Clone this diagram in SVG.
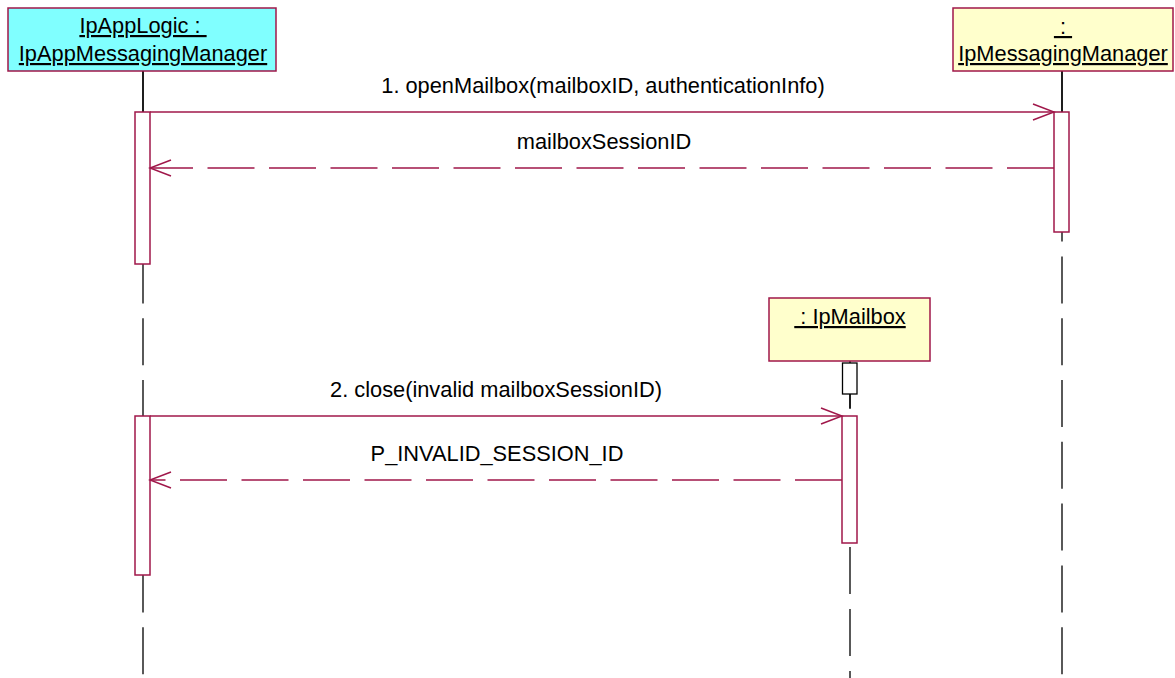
<svg xmlns="http://www.w3.org/2000/svg" width="1175" height="678" viewBox="0 0 1175 678">
<style>
text{font-family:"Liberation Sans",Arial,sans-serif;font-size:21.8px;fill:#000;}
.u{text-decoration:underline;}
.node{stroke:#a0174a;stroke-width:1.5;}
.life{stroke:#000;stroke-width:1.3;fill:none;}
.dl{stroke-dasharray:47 14.8;}
.act{fill:#fff;stroke:#a0174a;stroke-width:1.5;}
.msg{stroke:#a0174a;stroke-width:1.5;fill:none;}
.ret{stroke:#a0174a;stroke-width:1.5;fill:none;stroke-dasharray:47 14.5;}
</style>
<defs>
<marker id="arr" markerWidth="24" markerHeight="20" refX="22" refY="9" orient="auto" markerUnits="userSpaceOnUse">
<path d="M1,1 L22,9 L1,17" fill="none" stroke="#a0174a" stroke-width="1.5"/>
</marker>
</defs>
<g id="lifelines">
<line class="life" x1="143" y1="71" x2="143" y2="112"/>
<line class="life dl" x1="143" y1="71" x2="143" y2="678"/>
<line class="life" x1="1062" y1="71" x2="1062" y2="112"/>
<line class="life dl" x1="1062" y1="71" x2="1062" y2="678"/>
<line class="life dl" x1="850" y1="361" x2="850" y2="678" style="stroke-dasharray:47 15"/>
</g>
<g id="node-appLogic">
<rect class="node" x="8" y="8" width="268" height="63" fill="#80ffff"/>
<text class="u" x="143" y="33" text-anchor="middle" xml:space="preserve">IpAppLogic : </text>
<text class="u" x="143" y="61" text-anchor="middle">IpAppMessagingManager</text>
</g>
<g id="node-messagingManager">
<rect class="node" x="953" y="8" width="220" height="63" fill="#ffffcc"/>
<text class="u" x="1063" y="34" text-anchor="middle" xml:space="preserve"> : </text>
<text class="u" x="1063" y="61" text-anchor="middle">IpMessagingManager</text>
</g>
<g id="node-mailbox">
<rect class="node" x="769" y="298" width="161" height="63" fill="#ffffcc"/>
<text class="u" x="850" y="324" text-anchor="middle" xml:space="preserve"> : IpMailbox</text>
</g>
<g id="activations">
<rect class="act" x="135" y="112" width="15" height="152"/>
<rect class="act" x="1054" y="112" width="15" height="120"/>
<rect class="act" x="842.5" y="363" width="14.5" height="31" style="stroke:#000;stroke-width:1.3"/>
<line class="life" x1="850" y1="394" x2="850" y2="409"/>
<rect class="act" x="135" y="416" width="15" height="159"/>
<rect class="act" x="842" y="416" width="15" height="127"/>
</g>
<g id="connectors">
<line class="msg" x1="150" y1="112" x2="1054" y2="112" marker-end="url(#arr)"/>
<line class="ret" x1="1054" y1="168" x2="150" y2="168" marker-end="url(#arr)"/>
<line class="msg" x1="150" y1="416" x2="842" y2="416" marker-end="url(#arr)"/>
<line class="ret" x1="842" y1="480" x2="150" y2="480" marker-end="url(#arr)"/>
</g>
<g id="labels">
<text x="603" y="93" text-anchor="middle">1. openMailbox(mailboxID, authenticationInfo)</text>
<text x="604" y="149" text-anchor="middle">mailboxSessionID</text>
<text x="496" y="397" text-anchor="middle">2. close(invalid mailboxSessionID)</text>
<text x="497" y="461" text-anchor="middle">P_INVALID_SESSION_ID</text>
</g>
</svg>
